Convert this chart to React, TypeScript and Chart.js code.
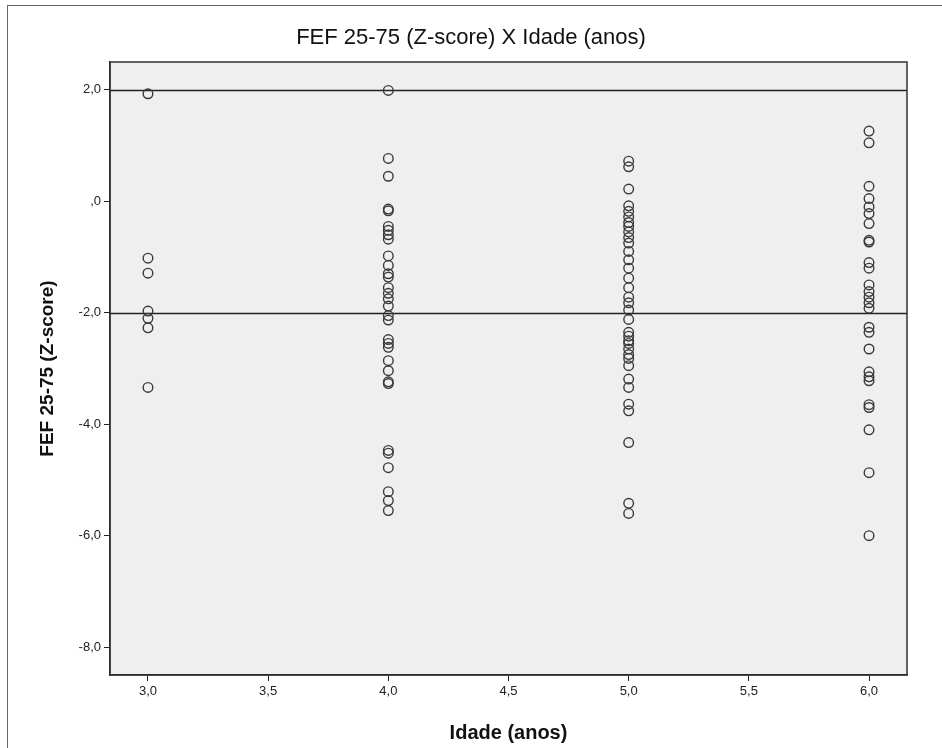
import React, { useEffect, useRef } from "react";
import { Chart, registerables } from "chart.js";

Chart.register(...registerables);

const TITLE = "FEF 25-75 (Z-score) X Idade (anos)";
const X_TITLE = "Idade (anos)";
const Y_TITLE = "FEF 25-75 (Z-score)";

const AGES = [3, 4, 5, 6];
const AGE3 = [1.93, -1.02, -1.29, -1.97, -2.1, -2.27, -3.34];
const AGE4 = [1.99, 0.77, 0.45, -0.14, -0.17, -0.45, -0.52, -0.6, -0.68, -0.98, -1.15, -1.3, -1.36, -1.55, -1.65, -1.75, -1.88, -2.05, -2.13, -2.48, -2.55, -2.62, -2.86, -3.04, -3.24, -3.27, -4.47, -4.52, -4.78, -5.21, -5.37, -5.55];
const AGE5 = [0.72, 0.62, 0.22, -0.08, -0.18, -0.28, -0.38, -0.45, -0.55, -0.65, -0.75, -0.9, -1.05, -1.2, -1.38, -1.55, -1.72, -1.82, -1.95, -2.12, -2.35, -2.42, -2.5, -2.55, -2.65, -2.75, -2.82, -2.95, -3.19, -3.34, -3.64, -3.76, -4.33, -5.42, -5.6];
const AGE6 = [1.26, 1.05, 0.27, 0.05, -0.1, -0.22, -0.4, -0.7, -0.73, -1.1, -1.2, -1.5, -1.62, -1.72, -1.82, -1.92, -2.26, -2.35, -2.65, -3.06, -3.15, -3.22, -3.65, -3.7, -4.1, -4.87, -6.0];

const X_TICKS = [3, 3.5, 4, 4.5, 5, 5.5, 6];
const Y_TICKS = [2, 0, -2, -4, -6, -8];
const REF_LINES = [2, -2];

const fmt = (v: number) => {
  const s = Number(v).toFixed(1).replace(".", ",");
  return s === "0,0" ? ",0" : s;
};

const FONT = "'Liberation Sans', Arial, sans-serif";

export default function App() {
  const ref = useRef<HTMLCanvasElement | null>(null);
  useEffect(() => {
    if (!ref.current) return;
    const groups = [AGE3, AGE4, AGE5, AGE6];
    const points = groups.flatMap((g, i) => g.map((y) => ({ x: AGES[i], y })));

    const plotBg = {
      id: "plotBg",
      beforeDraw(chart: any) {
        const { ctx, chartArea: a } = chart;
        ctx.save();
        ctx.fillStyle = "#efefef";
        ctx.fillRect(a.left, a.top, a.right - a.left, a.bottom - a.top);
        ctx.restore();
      },
      beforeDatasetsDraw(chart: any) {
        const { ctx, chartArea: a, scales } = chart;
        ctx.save();
        ctx.strokeStyle = "#222";
        ctx.lineWidth = 1.5;
        REF_LINES.forEach((v) => {
          const y = Math.round(scales.y.getPixelForValue(v)) + 0.5;
          ctx.beginPath();
          ctx.moveTo(a.left, y);
          ctx.lineTo(a.right, y);
          ctx.stroke();
        });
        ctx.strokeStyle = "#333";
        ctx.lineWidth = 1.5;
        ctx.strokeRect(a.left, a.top, a.right - a.left, a.bottom - a.top);
        ctx.restore();
      },
    };

    const chart = new Chart(ref.current, {
      type: "scatter",
      data: {
        datasets: [
          {
            data: points,
            pointRadius: 4.8,
            pointHoverRadius: 4.8,
            pointBorderColor: "#3a3a3a",
            pointBackgroundColor: "rgba(0,0,0,0)",
            pointBorderWidth: 1.4,
          },
        ],
      },
      options: {
        animation: false,
        responsive: false,
        layout: { padding: { left: 35, right: 35, top: 0, bottom: 0 } },
        plugins: {
          legend: { display: false },
          tooltip: { enabled: false },
          title: {
            display: true,
            text: TITLE,
            color: "#111",
            font: { family: FONT, size: 22, weight: "normal" },
            padding: { top: 25, bottom: 10.6 },
          },
        },
        scales: {
          x: {
            type: "linear",
            min: 2.842,
            max: 6.158,
            afterBuildTicks: (s: any) => {
              s.ticks = X_TICKS.map((v) => ({ value: v }));
            },
            afterFit: (s: any) => {
              s.height = 73;
            },
            ticks: {
              callback: (v: any) => fmt(v),
              color: "#222",
              font: { family: FONT, size: 13 },
              padding: 3,
              maxRotation: 0,
              autoSkip: false,
            },
            grid: { drawOnChartArea: false, drawTicks: true, tickLength: 6, color: "#222" },
            border: { display: true, color: "#222", width: 1.5 },
            title: {
              display: true,
              text: X_TITLE,
              color: "#111",
              font: { family: FONT, size: 20, weight: "bold" },
              padding: { top: 0, bottom: 3 },
            },
          },
          y: {
            type: "linear",
            min: -8.5,
            max: 2.5,
            afterBuildTicks: (s: any) => {
              s.ticks = Y_TICKS.map((v) => ({ value: v }));
            },
            afterFit: (s: any) => {
              s.width = 75;
            },
            ticks: {
              callback: (v: any) => fmt(v),
              color: "#222",
              font: { family: FONT, size: 13 },
              padding: 3,
              autoSkip: false,
            },
            grid: { drawOnChartArea: false, drawTicks: true, tickLength: 6, color: "#222" },
            border: { display: true, color: "#222", width: 1.5 },
            title: {
              display: true,
              text: Y_TITLE,
              color: "#111",
              font: { family: FONT, size: 19, weight: "bold" },
              padding: { top: 1, bottom: 0 },
            },
          },
        },
      },
      plugins: [plotBg],
    } as any);
    return () => chart.destroy();
  }, []);

  return (
    <div style={{ position: "fixed", left: 0, top: 0, width: 942, height: 748, background: "#fff" }}>
      <div
        style={{
          position: "absolute",
          left: 7,
          top: 5,
          width: 960,
          height: 760,
          borderLeft: "1px solid #666",
          borderTop: "1px solid #666",
        }}
      />
      <canvas ref={ref} width={942} height={748} style={{ position: "absolute", left: 0, top: 0 }} />
    </div>
  );
}
